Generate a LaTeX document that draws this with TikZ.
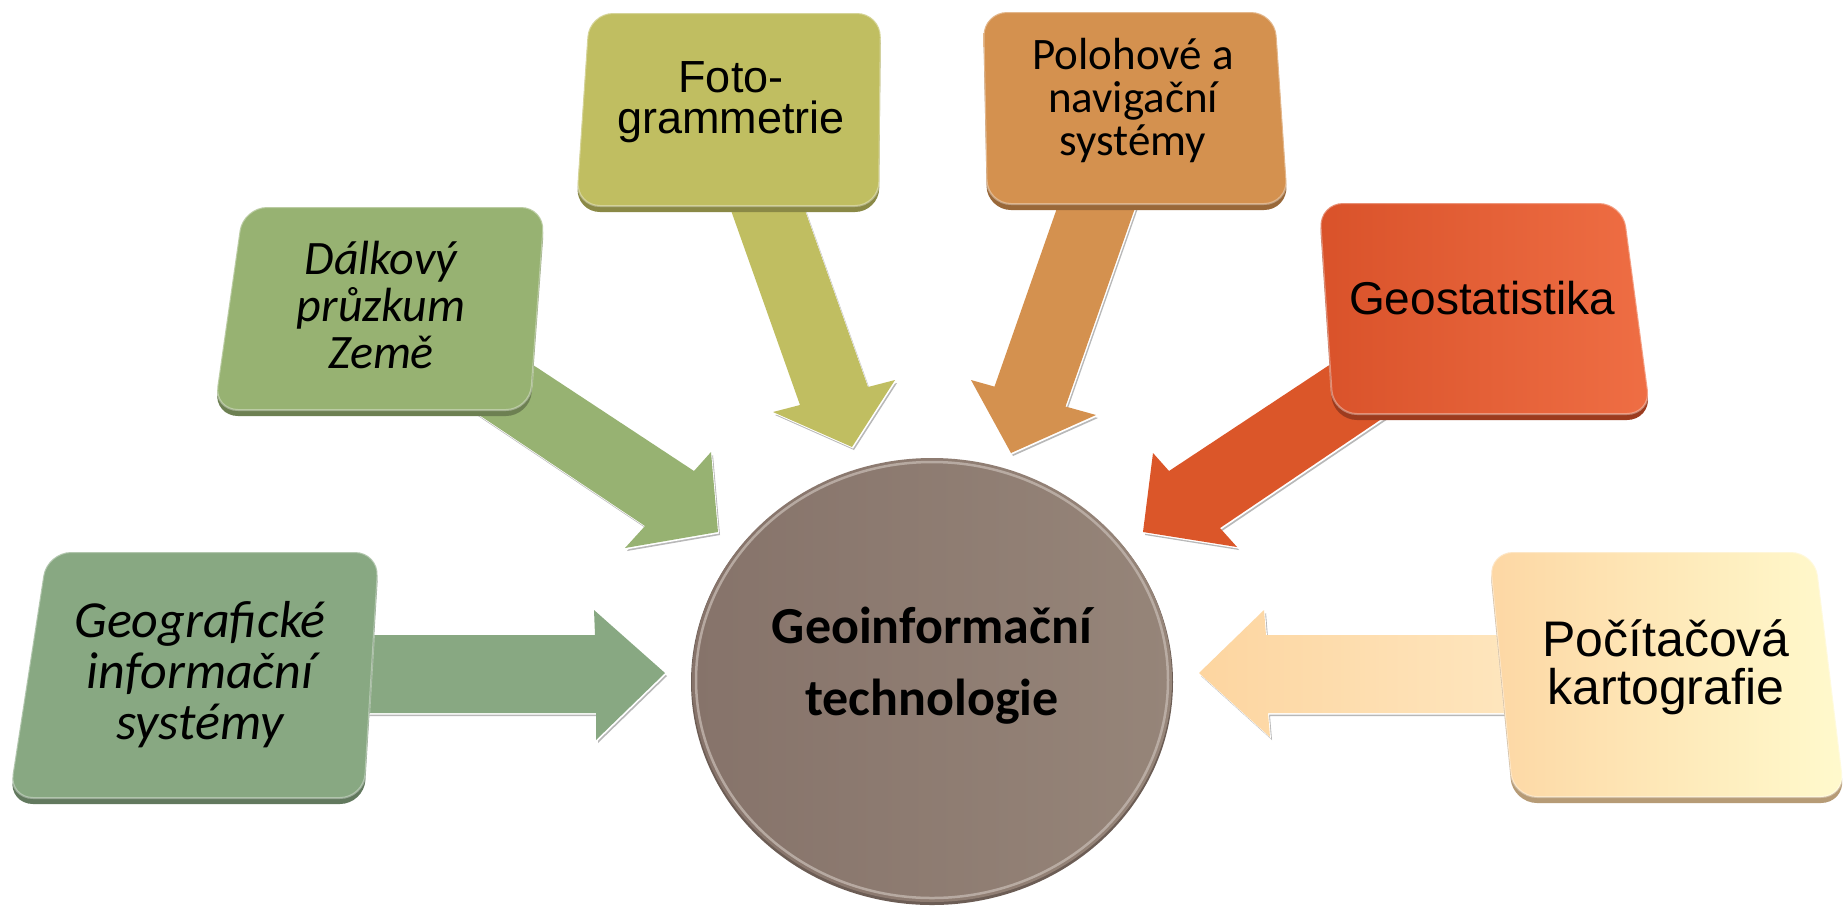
\documentclass[tikz,border=0pt]{standalone}
\usepackage{fontspec}
\setmainfont{Carlito}
\newfontfamily\arialfont{Liberation Sans}
\usetikzlibrary{calc}
\definecolor{gisc}{HTML}{88A882}
\definecolor{dpzc}{HTML}{97B272}
\definecolor{fotoc}{HTML}{C0BE61}
\definecolor{polc}{HTML}{D4914F}
\definecolor{geoL}{HTML}{D9522A}
\definecolor{geoR}{HTML}{EF6E44}
\definecolor{geoA}{HTML}{DB5629}
\definecolor{pocL}{HTML}{FDD7A4}
\definecolor{pocR}{HTML}{FFFACD}
\definecolor{pocA}{HTML}{FDD5A0}
\definecolor{pocB}{HTML}{FEE6BE}
\definecolor{hubL}{HTML}{86736A}
\definecolor{hubR}{HTML}{968579}
\definecolor{hubrim}{HTML}{C2B6AE}
\definecolor{hubdark}{HTML}{6C5D55}

\newcommand{\quadbox}[6]{%
  \fill[#5!72!black, rounded corners=24pt, shift={(0,6)}] #1 -- #2 -- #3 -- #4 -- cycle;
  \path[shade, left color=#5, right color=#6, rounded corners=24pt] #1 -- #2 -- #3 -- #4 -- cycle;
  \draw[white, opacity=0.35, line width=2pt, rounded corners=24pt] #1 -- #2 -- #3 -- #4 -- cycle;
}
\newcommand{\blockarrow}[2]{%
  \fill[black!28, shift={(2,3)}] #2 -- cycle;
  \fill[white, shift={(1,1.5)}] #2 -- cycle;
  \path[#1] #2 -- cycle;
}

\tikzset{
  txt/.style={align=center, text=black, inner sep=0pt},
}

\begin{document}
\begin{tikzpicture}[x=1pt,y=-1pt]
\useasboundingbox (0,0) rectangle (1845,906);
\fill[white] (0,0) rectangle (1845,906);

% ---------- arrows ----------
% GIS
\blockarrow{fill=gisc}{(340,635) -- (595,635) -- (594,610) -- (665,673) -- (596,740) -- (596,713) -- (340,713)}
% Dalkovy pruzkum
\blockarrow{fill=dpzc}{(442,305) -- (694,471) -- (711,452) -- (718,532) -- (625,548) -- (645,526) -- (385,352)}
% Foto
\blockarrow{fill=fotoc}{(722,185) -- (800,405) -- (773,412) -- (852,447) -- (895,380) -- (868,387) -- (796,185)}
% Polohove
\blockarrow{fill=polc}{(1064,188) -- (994.5,386.6) -- (971,380) -- (1011,453) -- (1096,415) -- (1065.5,406.5) -- (1142,188)}
% Geostatistika
\blockarrow{fill=geoA}{(1405,315) -- (1169,471) -- (1153,453) -- (1143,532) -- (1237,547) -- (1220,528) -- (1466,362)}
% Pocitacova
\blockarrow{shade, left color=pocA, right color=pocB}{(1520,635) -- (1266,635) -- (1264,610) -- (1199,673) -- (1270,737) -- (1268,713) -- (1520,713)}

% ---------- boxes ----------
\quadbox{(47,552)}{(379,552)}{(364,798)}{(9,798)}{gisc}{gisc}
\quadbox{(243,207)}{(545,207)}{(530,410)}{(214,410)}{dpzc}{dpzc}
\quadbox{(589,13)}{(881,13)}{(879,206)}{(576,206)}{fotoc}{fotoc}
\quadbox{(983,12)}{(1275,12)}{(1288,204)}{(987,204)}{polc}{polc}
\quadbox{(1319,203)}{(1623,203)}{(1651,414)}{(1333,414)}{geoL}{geoR}
\quadbox{(1489,552)}{(1815,552)}{(1845,797)}{(1513,797)}{pocL}{pocR}

% ---------- hub ----------
\fill[hubdark] (932,682) ellipse [x radius=241, y radius=223];
\path[shade, left color=hubL, right color=hubR] (932,680) ellipse [x radius=240, y radius=222];
\draw[hubrim, line width=2.5pt, opacity=0.8] (932,680) ellipse [x radius=236, y radius=218];

% ---------- texts ----------
\node[txt, font=\fontsize{52}{51}\selectfont\itshape] (gis) at (200,675) {Geografické\\informační\\systémy};
\node[txt, font=\fontsize{48}{47}\selectfont\itshape] (dpz) at (381,305) {Dálkový\\průzkum\\Země};
\node[txt, font=\arialfont\fontsize{45}{41}\selectfont] (foto) at (731,102) {Foto-\\grammetrie};
\node[txt, font=\fontsize{45}{43}\selectfont] (pol) at (1133,100) {Polohové a\\navigační\\systémy};
\node[txt, font=\arialfont\fontsize{46}{46}\selectfont] (geo) at (1482,298) {Geostatistika};
\node[txt, font=\arialfont\fontsize{50}{48}\selectfont] (poc) at (1666,667) {Počítačová\\kartografie};
\node[txt, font=\fontsize{52}{72}\selectfont\bfseries] (hub) at (932,666) {Geoinformační\\technologie};
\end{tikzpicture}
\end{document}
